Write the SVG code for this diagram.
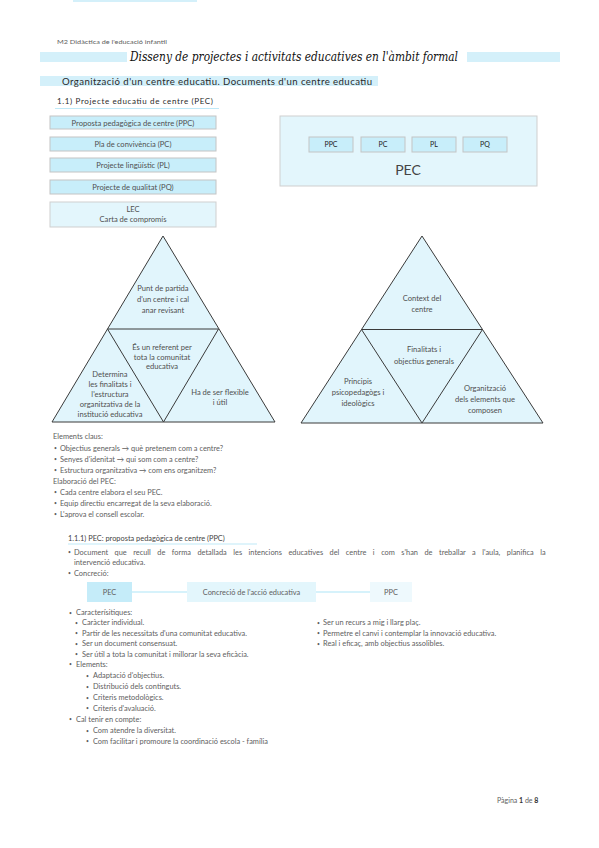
<svg xmlns="http://www.w3.org/2000/svg" width="599" height="848" viewBox="0 0 599 848">
<style>
text{font-family:Lato,"Open Sans","Noto Sans",sans-serif;fill:#606060;font-weight:400;}
.b{font-size:7.4px;}
.d{font-size:5px;}
.c{text-anchor:middle;}
.box{fill:#c8eefa;stroke:#c4c4c4;stroke-width:1;}
.lbox{fill:#e3f6fc;stroke:#cfcfcf;stroke-width:1;}
.tri{fill:#e1f5fc;stroke:#3a3a3a;stroke-width:1;stroke-linejoin:miter;}
.bar{fill:#d4f0fa;}
.t{font-size:7.6px;text-anchor:middle;fill:#505050;}
.sm{font-size:7px;text-anchor:middle;fill:#222;}
</style>
<rect width="599" height="848" fill="#ffffff"/>
<rect x="73" y="0" width="124" height="2" class="bar"/>

<g id="header">
<text x="57" y="44" style="font-size:5.6px" textLength="110" lengthAdjust="spacingAndGlyphs">M2 Didàctica de l'educació infantil</text>
<rect x="40" y="52" width="87" height="10" class="bar"/>
<rect x="467" y="52" width="93" height="10" class="bar"/>
<text x="130" y="61" style="font-family:'DejaVu Serif','Liberation Serif',serif;font-style:italic;font-size:13px;fill:#111" textLength="328" lengthAdjust="spacingAndGlyphs">Disseny de projectes i activitats educatives en l'àmbit formal</text>
<rect x="40" y="76" width="338" height="10" class="bar"/>
<text x="62" y="84.5" style="font-size:9.6px;fill:#2a2a2a" textLength="310" lengthAdjust="spacing">Organització d'un centre educatiu. Documents d'un centre educatiu</text>
<text x="57" y="103.5" style="font-size:8px;fill:#2a2a2a" textLength="156" lengthAdjust="spacing">1.1) Projecte educatiu de centre (PEC)</text>
<line x1="55" y1="108.5" x2="219" y2="108.5" stroke="#bfe9f8" stroke-width="1.2"/>
</g>

<g id="ppc-box"><rect x="50" y="116" width="166" height="13" class="box"/><text x="133" y="125.5" class="t">Proposta pedagògica de centre (PPC)</text></g>
<g id="pc-box"><rect x="50" y="137" width="166" height="14" class="box"/><text x="133" y="146.5" class="t">Pla de convivència (PC)</text></g>
<g id="pl-box"><rect x="50" y="158" width="166" height="14" class="box"/><text x="133" y="167.5" class="t">Projecte lingüístic (PL)</text></g>
<g id="pq-box"><rect x="50" y="180" width="166" height="14" class="box"/><text x="133" y="189.5" class="t">Projecte de qualitat (PQ)</text></g>
<g id="lec-box"><rect x="50" y="202" width="166" height="25" class="lbox"/><text x="133" y="211.5" class="t">LEC</text><text x="133" y="221.5" class="t">Carta de compromís</text></g>

<g id="pec-box">
<rect x="280" y="116" width="257" height="70" class="lbox"/>
<rect x="309" y="137" width="44" height="15" class="box"/><text x="331" y="147.3" class="sm">PPC</text>
<rect x="361" y="137" width="44" height="15" class="box"/><text x="383" y="147.3" class="sm">PC</text>
<rect x="412" y="137" width="44" height="15" class="box"/><text x="434" y="147.3" class="sm">PL</text>
<rect x="463" y="137" width="44" height="15" class="box"/><text x="485" y="147.3" class="sm">PQ</text>
<text x="408" y="175" style="font-size:14px;text-anchor:middle;fill:#444">PEC</text>
</g>

<g id="triangle-left">
<polygon points="163,236 52,422 275,422" class="tri"/>
<polygon points="107.5,329 218.5,329 163.5,422" class="tri"/>
<text class="t"><tspan x="163" y="291">Punt de partida</tspan><tspan x="163" y="302">d'un centre i cal</tspan><tspan x="163" y="313">anar revisant</tspan></text>
<text class="t"><tspan x="162" y="350">És un referent per</tspan><tspan x="162" y="360">tota la comunitat</tspan><tspan x="162" y="369">educativa</tspan></text>
<text class="t"><tspan x="110" y="377">Determina</tspan><tspan x="110" y="387">les finalitats i</tspan><tspan x="110" y="397">l'estructura</tspan><tspan x="110" y="407">organitzativa de la</tspan><tspan x="110" y="417">institució educativa</tspan></text>
<text class="t"><tspan x="220" y="395">Ha de ser flexible</tspan><tspan x="220" y="405">i útil</tspan></text>
</g>

<g id="triangle-right">
<polygon points="422,236 301,423 543,423" class="tri"/>
<polygon points="361.5,329.5 482.5,329.5 422,423" class="tri"/>
<text class="t"><tspan x="422" y="301">Context del</tspan><tspan x="422" y="312">centre</tspan></text>
<text class="t"><tspan x="424" y="352">Finalitats i</tspan><tspan x="424" y="364">objectius generals</tspan></text>
<text class="t"><tspan x="358" y="384">Principis</tspan><tspan x="358" y="395">psicopedagògs i</tspan><tspan x="358" y="406">ideològics</tspan></text>
<text class="t"><tspan x="485" y="391">Organització</tspan><tspan x="485" y="402">dels elements que</tspan><tspan x="485" y="413">composen</tspan></text>
</g>

<g id="elements-list">
<text x="53" y="438.5" class="b">Elements claus:</text>
<text x="54" y="450" class="d">•</text><text x="60" y="450.5" class="b">Objectius generals → què pretenem com a centre?</text>
<text x="54" y="461" class="d">•</text><text x="60" y="461.5" class="b">Senyes d'idenitat → qui som com a centre?</text>
<text x="54" y="472" class="d">•</text><text x="60" y="472.5" class="b">Estructura organitzativa → com ens organitzem?</text>
<text x="53" y="483.5" class="b">Elaboració del PEC:</text>
<text x="54" y="494" class="d">•</text><text x="60" y="494.5" class="b">Cada centre elabora el seu PEC.</text>
<text x="54" y="505" class="d">•</text><text x="60" y="505.5" class="b">Equip directiu encarregat de la seva elaboració.</text>
<text x="54" y="516" class="d">•</text><text x="60" y="516.5" class="b">L'aprova el consell escolar.</text>
</g>

<g id="ppc-section">
<text x="68" y="540.5" class="b" style="fill:#444">1.1.1) PEC: proposta pedagògica de centre (PPC)</text>
<line x1="68" y1="544" x2="257" y2="544" stroke="#bfe9f8" stroke-width="1.2"/>
<text x="68" y="554" class="d">•</text><text x="74" y="554.5" class="b" style="word-spacing:4.6px">Document que recull de forma detallada les intencions educatives del centre i com s'han de treballar a l'aula, planifica la</text>
<text x="74" y="564.5" class="b">intervenció educativa.</text>
<text x="68" y="575" class="d">•</text><text x="74" y="575.5" class="b">Concreció:</text>
</g>

<g id="connectors">
<line x1="132" y1="592" x2="187" y2="592" stroke="#c9eefa" stroke-width="1.5"/>
<line x1="316" y1="592" x2="370" y2="592" stroke="#c9eefa" stroke-width="1.5"/>
</g>
<g id="concrecio-pec"><rect x="87" y="582" width="45" height="20" fill="#c5ecf9"/><text x="109.5" y="595" class="b c">PEC</text></g>
<g id="concrecio-accio"><rect x="187" y="582" width="129" height="20" fill="#e3f6fc"/><text x="251.5" y="595" class="b c">Concreció de l'acció educativa</text></g>
<g id="concrecio-ppc"><rect x="370" y="582" width="42" height="20" fill="#eef9fd"/><text x="391" y="595" class="b c">PPC</text></g>

<g id="caracteristiques">
<text x="69" y="614.5" class="d">•</text><text x="76" y="615" class="b">Caracterísitiques:</text>
<text x="75" y="624.5" class="d">•</text><text x="82" y="625" class="b">Caràcter individual.</text>
<text x="75" y="635" class="d">•</text><text x="82" y="635.5" class="b">Partir de les necessitats d'una comunitat educativa.</text>
<text x="75" y="645.5" class="d">•</text><text x="82" y="646" class="b">Ser un document consensuat.</text>
<text x="75" y="656" class="d">•</text><text x="82" y="656.5" class="b">Ser útil a tota la comunitat i millorar la seva eficàcia.</text>
<text x="317" y="624.5" class="d">•</text><text x="323" y="625" class="b">Ser un recurs a mig i llarg plaç.</text>
<text x="317" y="635" class="d">•</text><text x="323" y="635.5" class="b">Permetre el canvi i contemplar la innovació educativa.</text>
<text x="317" y="645.5" class="d">•</text><text x="323" y="646" class="b">Real i eficaç, amb objectius assolibles.</text>
<text x="69" y="666" class="d">•</text><text x="76" y="666.5" class="b">Elements:</text>
<text x="86" y="677.5" class="d">•</text><text x="93" y="678" class="b">Adaptació d'objectius.</text>
<text x="86" y="688.5" class="d">•</text><text x="93" y="689" class="b">Distribució dels continguts.</text>
<text x="86" y="699.5" class="d">•</text><text x="93" y="700" class="b">Criteris metodològics.</text>
<text x="86" y="710" class="d">•</text><text x="93" y="710.5" class="b">Criteris d'avaluació.</text>
<text x="69" y="721" class="d">•</text><text x="76" y="721.5" class="b">Cal tenir en compte:</text>
<text x="86" y="732.5" class="d">•</text><text x="93" y="733" class="b">Com atendre la diversitat.</text>
<text x="86" y="743" class="d">•</text><text x="93" y="743.5" class="b">Com facilitar i promoure la coordinació escola - família</text>
</g>

<g id="footer">
<text x="497" y="803" style="font-size:7px">Pàgina <tspan style="font-weight:bold;fill:#333">1</tspan> de <tspan style="font-weight:bold;fill:#333">8</tspan></text>
</g>
</svg>
